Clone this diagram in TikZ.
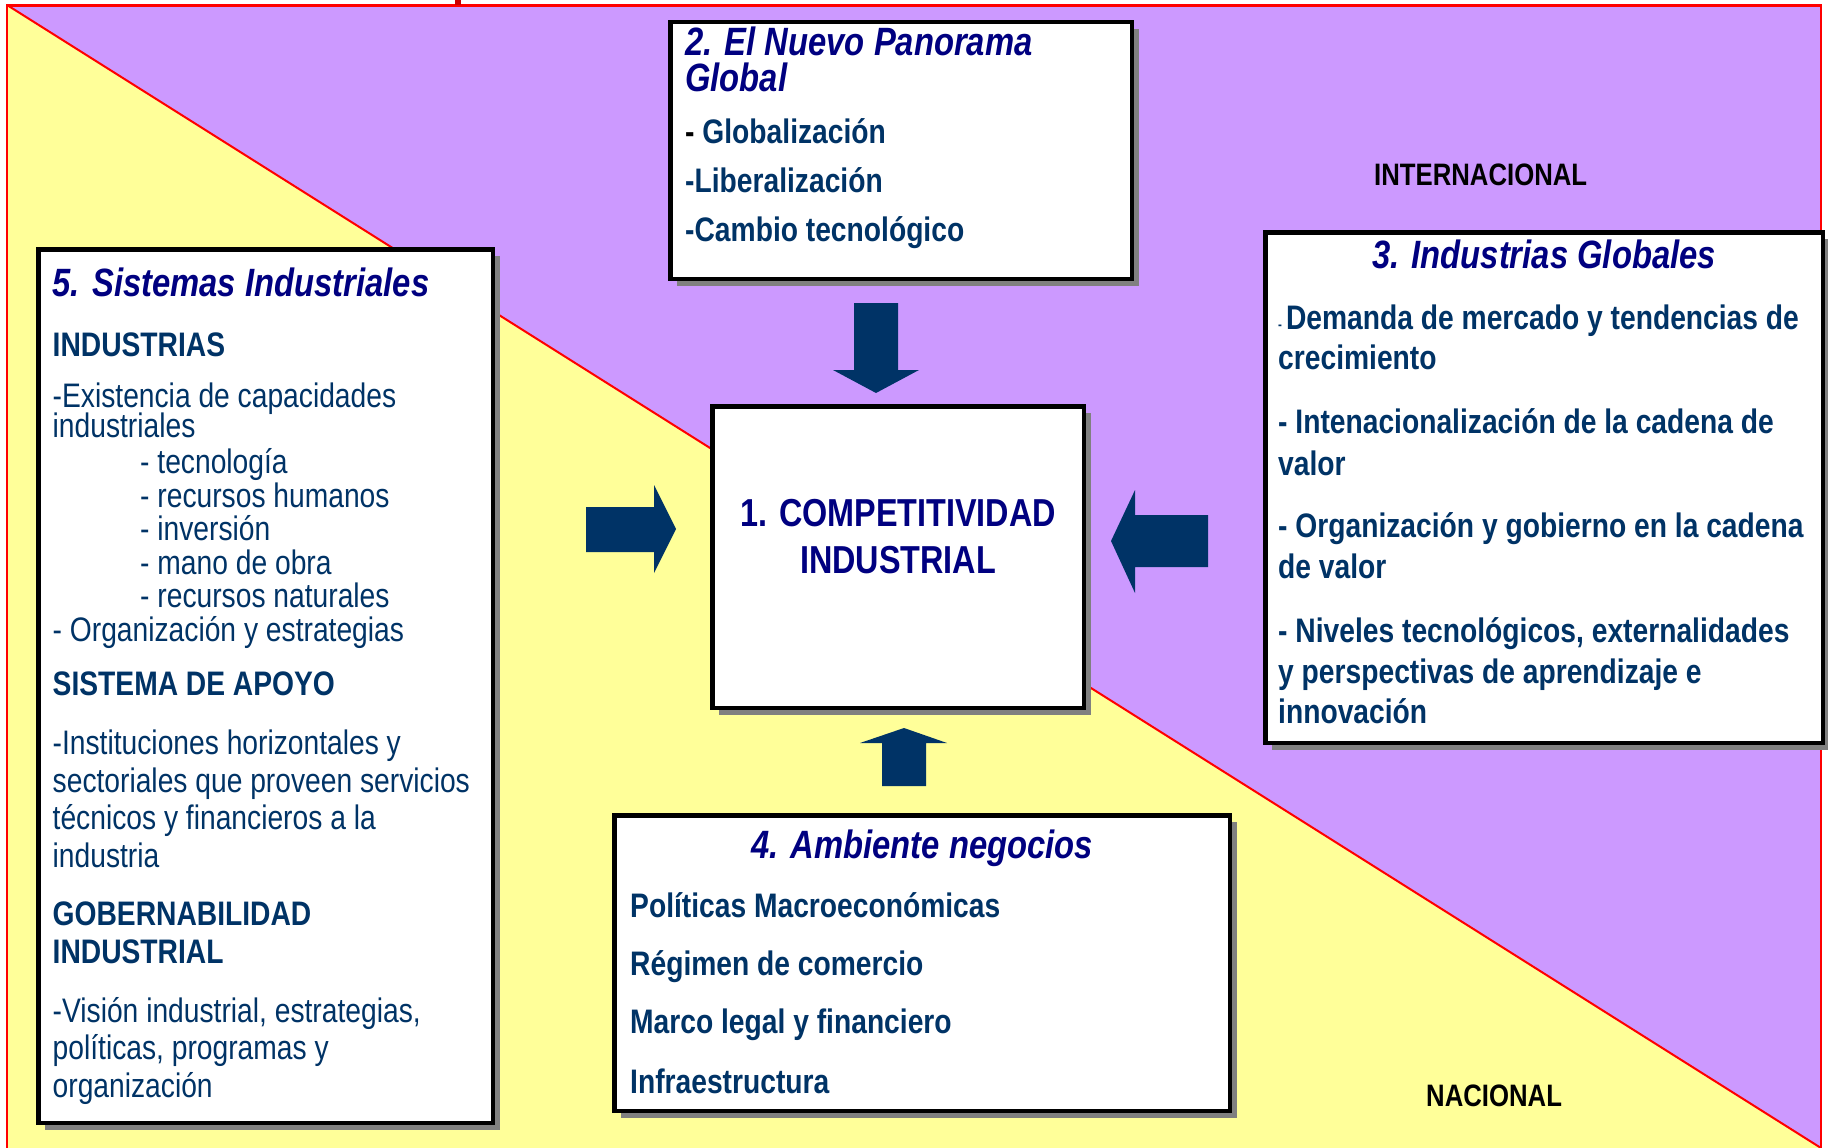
\documentclass[tikz,border=0pt]{standalone}
\usepackage{fontspec}
\setmainfont{Liberation Sans}[FakeStretch=0.83]
\usetikzlibrary{shadows}
\definecolor{lila}{HTML}{CC99FF}
\definecolor{amar}{HTML}{FFFF99}
\definecolor{ttl}{HTML}{000080}
\definecolor{bdy}{HTML}{003366}
\definecolor{shgray}{HTML}{808080}
\definecolor{frame}{HTML}{FF0000}
\tikzset{
  box/.style={draw=black, line width=4.5pt, fill=white, inner sep=0pt, outer sep=0pt, anchor=north west,
    general shadow={fill=shgray, shadow xshift=7pt, shadow yshift=-7pt}},
  txt/.style={anchor=base west, inner sep=0pt, text=bdy, font=\fontsize{34}{34}\selectfont},
  txtb/.style={txt, font=\fontsize{34}{34}\selectfont\bfseries},
  ttlst/.style={inner sep=0pt, text=ttl, font=\fontsize{39.5}{39.5}\selectfont\bfseries\itshape},
  lbl/.style={anchor=base west, inner sep=0pt, text=black, font=\fontsize{31}{31}\selectfont\bfseries},
  ctxt/.style={inner sep=0pt, anchor=base, text=ttl, font=\fontsize{39}{39}\selectfont\bfseries},
  blockarrow/.style={fill=bdy, draw=none}
}
\begin{document}
\begin{tikzpicture}[x=1pt,y=-1pt]
\useasboundingbox (0,0) rectangle (1828,1148);
% background
\fill[lila] (7,5) -- (1821,5) -- (1821,1148) -- cycle;
\fill[amar] (7,5) -- (1821,1148) -- (1821,1160) -- (7,1160) -- cycle;
\draw[frame, line width=2pt] (7,5) -- (1821,1148);
\draw[frame, line width=2.5pt] (7,1160) -- (7,5.5) -- (1821,5.5) -- (1821,1160);
\draw[red!80!black, line width=6pt] (458,0) -- (458,5);

% boxes
\node[box, minimum width=461.5pt, minimum height=256.5pt] (b2) at (670.25,22.25) {};
\node[box, minimum width=454.5pt, minimum height=873.5pt] (b5) at (38.25,249.25) {};
\node[box, minimum width=371.5pt, minimum height=301.5pt] (b1) at (712.25,406.25) {};
\node[box, minimum width=557.5pt, minimum height=510.5pt] (b3) at (1265.25,232.25) {};
\node[box, minimum width=615.5pt, minimum height=295.5pt] (b4) at (614.25,815.25) {};

% arrows
\fill[blockarrow] (854,303) -- (898,303) -- (898,370) -- (919,370) -- (876,393) -- (833,370) -- (854,370) -- cycle;
\fill[blockarrow] (882,786) -- (926,786) -- (926,743) -- (947,743) -- (904,728) -- (860,743) -- (882,743) -- cycle;
\fill[blockarrow] (586,507) -- (654,507) -- (654,485) -- (676,529) -- (654,573) -- (654,552) -- (586,552) -- cycle;
\fill[blockarrow] (1208,515) -- (1135,515) -- (1135,490) -- (1111,541) -- (1135,593) -- (1135,567) -- (1208,567) -- cycle;

% labels
\node[lbl] (intl) at (1374,185) {INTERNACIONAL};
\node[lbl] (nac) at (1426,1106) {NACIONAL};

% box 2
\node[ttlst, anchor=base west] (t2a) at (685,56) {2. El Nuevo Panorama};
\node[ttlst, anchor=base west] (t2b) at (685,91) {Global};
\node[txtb] (g1) at (685,143) {\textcolor{black}{-} Globalización};
\node[txtb] (g2) at (685,192) {-Liberalización};
\node[txtb] (g3) at (685,241) {-Cambio tecnológico};

% box 1
\node[ctxt] (c1) at (898,526) {1. COMPETITIVIDAD};
\node[ctxt] (c2) at (898,573) {INDUSTRIAL};

% box 5
\node[ttlst, anchor=base west] (t5) at (52.5,296) {5. Sistemas Industriales};
\node[txtb] (s1) at (52.5,356) {INDUSTRIAS};
\node[txt] (s2) at (52.5,407) {-Existencia de capacidades};
\node[txt] (s3) at (52.5,437) {industriales};
\node[txt] (s4) at (140,473) {- tecnología};
\node[txt] (s5) at (140,507) {- recursos humanos};
\node[txt] (s6) at (140,540) {- inversión};
\node[txt] (s7) at (140,574) {- mano de obra};
\node[txt] (s8) at (140,607) {- recursos naturales};
\node[txt] (s9) at (52.5,641) {- Organización y estrategias};
\node[txtb] (s10) at (52.5,695) {SISTEMA DE APOYO};
\node[txt] (s11) at (52.5,754) {-Instituciones horizontales y};
\node[txt] (s12) at (52.5,792) {sectoriales que proveen servicios};
\node[txt] (s13) at (52.5,829) {técnicos y financieros a la};
\node[txt] (s14) at (52.5,867) {industria};
\node[txtb] (s15) at (52.5,925) {GOBERNABILIDAD};
\node[txtb] (s16) at (52.5,963) {INDUSTRIAL};
\node[txt] (s17) at (52.5,1022) {-Visión industrial, estrategias,};
\node[txt] (s18) at (52.5,1059) {políticas, programas y};
\node[txt] (s19) at (52.5,1097) {organización};

% box 3
\node[ttlst, anchor=base] (t3) at (1544,268) {3. Industrias Globales};
\node[txtb] (i1) at (1278,329) {{\fontsize{14}{14}\selectfont -}\hspace{4pt}Demanda de mercado y tendencias de};
\node[txtb] (i2) at (1278,369) {crecimiento};
\node[txtb] (i3) at (1278,433) {- Intenacionalización de la cadena de};
\node[txtb] (i4) at (1278,475) {valor};
\node[txtb] (i5) at (1278,537) {- Organización y gobierno en la cadena};
\node[txtb] (i6) at (1278,578) {de valor};
\node[txtb] (i7) at (1278,642) {- Niveles tecnológicos, externalidades};
\node[txtb] (i8) at (1278,683) {y perspectivas de aprendizaje e};
\node[txtb] (i9) at (1278,723) {innovación};

% box 4
\node[ttlst, anchor=base] (t4) at (922,858) {4. Ambiente negocios};
\node[txtb] (a1) at (630,917) {Políticas Macroeconómicas};
\node[txtb] (a2) at (630,975) {Régimen de comercio};
\node[txtb] (a3) at (630,1033) {Marco legal y financiero};
\node[txtb] (a4) at (630,1093) {Infraestructura};
\end{tikzpicture}
\end{document}
